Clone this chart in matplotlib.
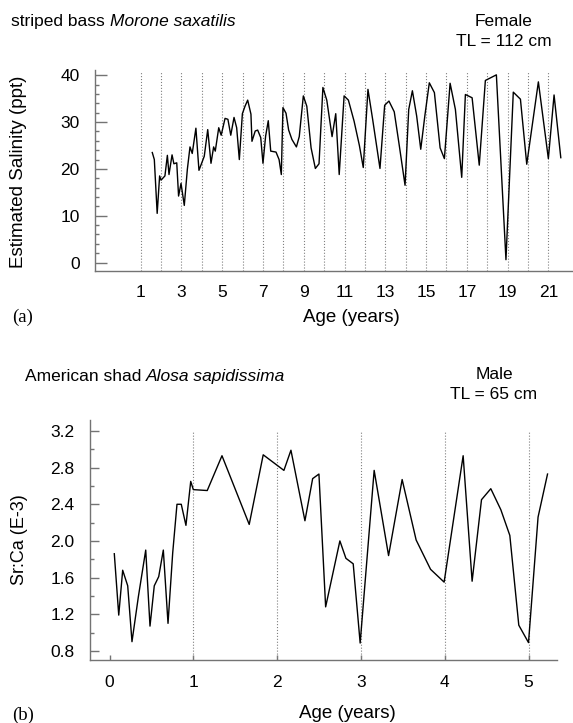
import matplotlib
matplotlib.use("Agg")
import matplotlib.pyplot as plt
from matplotlib.ticker import MultipleLocator

plt.rcParams['font.family'] = ['Liberation Sans', 'DejaVu Sans']
plt.rcParams['font.size'] = 12

# (a) striped bass - estimated salinity vs age
age_a = [1.57, 1.67, 1.81, 1.93, 2.0, 2.19, 2.31, 2.39, 2.54, 2.63, 2.77, 2.86, 2.98, 3.14,
         3.29, 3.42, 3.53, 3.71, 3.86, 4.12, 4.29, 4.45, 4.58, 4.66, 4.83, 4.95, 5.14, 5.28,
         5.42, 5.58, 5.71, 5.84, 5.99, 6.12, 6.25, 6.41, 6.46, 6.62, 6.74, 6.89, 7.0, 7.13,
         7.26, 7.38, 7.64, 7.79, 7.90, 7.98, 8.13, 8.26, 8.42, 8.64, 8.78, 8.98, 9.15, 9.36,
         9.57, 9.75, 9.94, 10.13, 10.39, 10.57, 10.74, 10.98, 11.19, 11.47, 11.73, 11.92,
         12.15, 12.38, 12.74, 12.97, 13.18, 13.44, 13.69, 13.97, 14.15, 14.33, 14.54, 14.74,
         14.94, 15.16, 15.41, 15.69, 15.90, 16.18, 16.44, 16.75, 16.93, 17.26, 17.61, 17.91,
         18.45, 18.92, 19.28, 19.63, 19.94, 20.51, 21.0, 21.28, 21.61]
sal_a = [23.5, 22.0, 10.5, 18.5, 17.6, 18.5, 22.9, 18.8, 23.0, 21.1, 21.3, 14.2, 16.9, 12.2,
         19.9, 24.7, 23.3, 28.7, 19.7, 22.7, 28.4, 21.2, 24.7, 23.8, 28.8, 27.2, 30.8, 30.6,
         27.2, 31.0, 28.8, 22.0, 31.8, 33.4, 34.7, 31.7, 25.9, 28.1, 28.3, 26.7, 21.2, 27.0,
         30.3, 23.8, 23.6, 22.0, 18.8, 33.1, 31.9, 28.3, 26.3, 24.7, 26.9, 35.6, 33.4, 24.5,
         20.1, 21.1, 37.4, 34.7, 26.9, 31.8, 18.8, 35.6, 34.7, 30.2, 25.0, 20.3,
         37.0, 30.6, 20.1, 33.6, 34.5, 32.2, 24.9, 16.5, 32.7, 36.7, 31.3, 24.2,
         31.3, 38.4, 36.3, 24.5, 22.2, 38.3, 32.7, 18.2, 35.9, 35.2, 20.8, 38.9,
         40.1, 0.6, 36.4, 34.9, 21.0, 38.6, 22.2, 35.8, 22.4]
annuli_a = list(range(1, 22))
xticks_a = list(range(1, 22, 2))

# (b) American shad - Sr:Ca vs age
age_b = [0.057, 0.110, 0.157, 0.217, 0.268, 0.344, 0.432, 0.483, 0.534, 0.587, 0.642, 0.698,
         0.754, 0.805, 0.856, 0.912, 0.969, 1.0, 1.166, 1.342, 1.667, 1.834, 2.081, 2.165,
         2.332, 2.424, 2.499, 2.579, 2.749, 2.821, 2.908, 2.991, 3.158, 3.33, 3.492, 3.659,
         3.831, 3.993, 4.22, 4.327, 4.439, 4.55, 4.67, 4.777, 4.884, 5.0, 5.114, 5.227]
srca_b = [1.86, 1.19, 1.68, 1.51, 0.90, 1.39, 1.90, 1.07, 1.51, 1.61, 1.90, 1.10,
          1.87, 2.40, 2.40, 2.17, 2.65, 2.56, 2.55, 2.93, 2.18, 2.94, 2.77, 2.99,
          2.22, 2.68, 2.73, 1.28, 2.00, 1.81, 1.75, 0.885, 2.77, 1.84, 2.67, 2.01,
          1.69, 1.55, 2.93, 1.56, 2.45, 2.57, 2.34, 2.06, 1.08, 0.89, 2.26, 2.73]
annuli_b = [1, 2, 3, 4, 5]
xticks_b = [0, 1, 2, 3, 4, 5]

W, H = 573, 723
fig = plt.figure(figsize=(W / 100, H / 100), dpi=100)

def px_axes(l, t, r, b):
    return fig.add_axes([l / W, 1 - b / H, (r - l) / W, (b - t) / H])

axis_col = '0.45'

def style(ax, major_len):
    for s in ['top', 'right']:
        ax.spines[s].set_visible(False)
    for s in ['left', 'bottom']:
        ax.spines[s].set_color(axis_col)
        ax.spines[s].set_linewidth(1)
    ax.tick_params(axis='y', which='major', direction='in', length=major_len, width=1,
                   color=axis_col, pad=11, labelsize=12.5)
    ax.tick_params(axis='y', which='minor', direction='in', length=3.2, width=1,
                   color=axis_col)

def title(x, y, plain, italic):
    t = fig.text(x / W, 1 - y / H, plain, ha='left', va='center', fontsize=12.5)
    fig.canvas.draw()
    bb = t.get_window_extent()
    fig.text(bb.x1 / W, 1 - y / H, italic, ha='left', va='center',
             fontsize=12.5, style='italic')

# ---- panel (a)
ax1 = px_axes(95, 69.7, 572, 270.7)
ax1.vlines(annuli_a, -1.75, 41.0, colors='0.5', linestyles=':', linewidth=0.8)
ax1.plot(age_a, sal_a, color='black', linewidth=1)
ax1.set_xlim(-1.24, 22.16)
ax1.set_ylim(-1.75, 41.2)
ax1.set_yticks([0, 10, 20, 30, 40])
ax1.yaxis.set_minor_locator(MultipleLocator(2))
ax1.set_xticks(xticks_a)
style(ax1, 8.6)
ax1.tick_params(axis='x', length=0, pad=10, labelsize=12.5)

title(11, 21.5, 'striped bass ', 'Morone saxatilis')
fig.text(504 / W, 1 - 21 / H, 'Female', ha='center', va='center', fontsize=12.5)
fig.text(504 / W, 1 - 42 / H, 'TL = 112 cm', ha='center', va='center', fontsize=12.5)
fig.text(19 / W, 1 - 172 / H, 'Estimated Salinity (ppt)', rotation=90, ha='center',
         va='center', fontsize=13.5)
fig.text(12 / W, 1 - 317 / H, '(a)', ha='left', va='center', fontsize=13.5,
         family='Liberation Serif')
fig.text(351 / W, 1 - 317 / H, 'Age (years)', ha='center', va='center', fontsize=13.5)

# ---- panel (b)
ax2 = px_axes(90, 420, 557, 660)
ax2.vlines(annuli_b, 0.70, 3.2, colors='0.5', linestyles=':', linewidth=0.8)
ax2.plot(age_b, srca_b, color='black', linewidth=1)
ax2.set_xlim(-0.233, 5.34)
ax2.set_ylim(0.70, 3.32)
ax2.set_yticks([0.8, 1.2, 1.6, 2.0, 2.4, 2.8, 3.2])
ax2.set_yticklabels(['0.8', '1.2', '1.6', '2.0', '2.4', '2.8', '3.2'])
ax2.yaxis.set_minor_locator(MultipleLocator(0.2))
ax2.set_xticks(xticks_b)
style(ax2, 6.5)
ax2.tick_params(axis='x', direction='in', length=3.5, width=1, color=axis_col,
                pad=10.5, labelsize=12.5)

title(25, 376, 'American shad ', 'Alosa sapidissima')
fig.text(494 / W, 1 - 374 / H, 'Male', ha='center', va='center', fontsize=12.5)
fig.text(494 / W, 1 - 395 / H, 'TL = 65 cm', ha='center', va='center', fontsize=12.5)
fig.text(20 / W, 1 - 540 / H, 'Sr:Ca (E-3)', rotation=90, ha='center', va='center',
         fontsize=13)
fig.text(12 / W, 1 - 715 / H, '(b)', ha='left', va='center', fontsize=13.5,
         family='Liberation Serif')
fig.text(347 / W, 1 - 714 / H, 'Age (years)', ha='center', va='center', fontsize=13.5)

fig.savefig('out.png', dpi=100)
